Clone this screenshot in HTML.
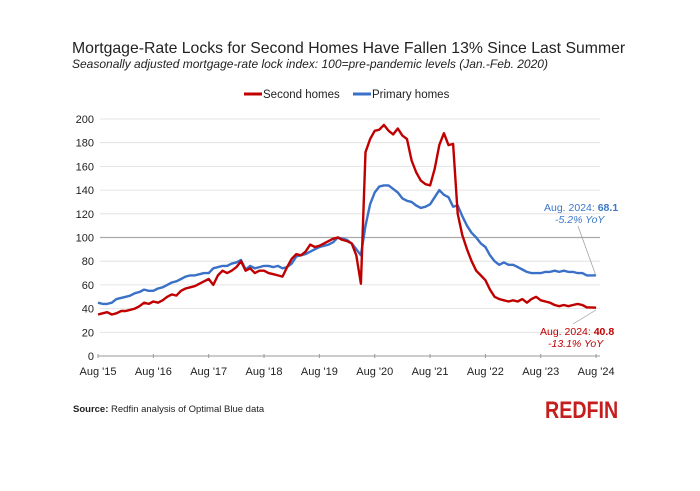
<!DOCTYPE html>
<html><head><meta charset="utf-8"><style>
html,body{margin:0;padding:0;background:#fff;}
body{width:700px;height:486px;overflow:hidden;font-family:"Liberation Sans",sans-serif;}
</style></head><body>
<svg id="s" width="700" height="486" xmlns="http://www.w3.org/2000/svg" font-family="Liberation Sans, sans-serif">
<rect width="700" height="486" fill="#fff"/>
<text x="72" y="53" font-size="15.8" fill="#222">Mortgage-Rate Locks for Second Homes Have Fallen 13% Since Last Summer</text>
<text x="72" y="68" font-size="12" font-style="italic" fill="#222">Seasonally adjusted mortgage-rate lock index: 100=pre-pandemic levels (Jan.-Feb. 2020)</text>
<line x1="244" y1="94" x2="262" y2="94" stroke="#c00000" stroke-width="3"/>
<text x="263" y="98" font-size="11.5" fill="#222">Second homes</text>
<line x1="353" y1="94" x2="371" y2="94" stroke="#3a70c8" stroke-width="3"/>
<text x="372" y="98" font-size="11.5" fill="#222">Primary homes</text>
<g id="grid"></g>
<g id="lines"></g>
<text x="544" y="211" font-size="10.5" fill="#3a78c8">Aug. 2024: <tspan font-weight="bold">68.1</tspan></text>
<text x="555" y="223" font-size="10.5" font-style="italic" fill="#3a78c8">-5.2% YoY</text>
<line x1="578" y1="226" x2="596" y2="276" stroke="#999" stroke-width="0.7"/>
<line x1="573" y1="324" x2="596" y2="310" stroke="#999" stroke-width="0.7"/>
<text x="540" y="335" font-size="10.5" fill="#c00000">Aug. 2024: <tspan font-weight="bold">40.8</tspan></text>
<text x="548" y="347" font-size="10.5" font-style="italic" fill="#c00000">-13.1% YoY</text>
<text x="73" y="412" font-size="9.5" fill="#222"><tspan font-weight="bold">Source:</tspan> Redfin analysis of Optimal Blue data</text>
<text x="0" y="0" font-size="24" font-weight="bold" fill="#c41e1e" transform="translate(545,418) scale(0.82,1)">REDFIN</text>
</svg>
<script>
var P=[45,44,44,45,48,49,50,51,53,54,56,55,55,57,58,60,62,63,65,67,68,68,69,70,70,74,75,76,76,78,79,81,73,76,74,75,76,76,75,76,74,75,78,84,85,86,88,90,92,93,94,96,100,99,98,95,90,85,110,128,138,143,144,144,141,138,133,131,130,127,125,126,128,134,140,136,134,126,127,118,110,104,100,95,92,85,80,77,79,77,77,75,73,71,70,70,70,71,71,72,71,72,71,71,70,70,68,68,68.1];
var R=[35,36,37,35,36,38,38,39,40,42,45,44,46,45,47,50,52,51,55,57,58,59,61,63,65,60,68,72,70,72,75,80,72,74,70,72,72,70,69,68,67,75,82,86,85,88,94,92,93,95,97,99,100,98,97,95,85,61,172,183,190,191,195,190,187,192,186,183,165,155,148,145,144,158,178,188,178,179,120,102,90,80,72,68,64,56,50,48,47,46,47,46,48,45,48,50,47,46,45,43,42,43,42,43,44,43,41,41,40.8];
function X(i){return 98+i*4.612;}function Y(v){return 356-v*1.185;}
var g='';
for(var v=0;v<=200;v+=20){var y=Y(v);
 if(v>0)g+='<line x1="100" x2="600" y1="'+y+'" y2="'+y+'" stroke="'+(v==100?'#aaa':'#ddd')+'" stroke-width="'+(v==100?1.3:0.8)+'"/>';
 g+='<text x="94" y="'+(y+4)+'" font-size="11" text-anchor="end" fill="#222">'+v+'</text>';}
g+='<line x1="98" x2="600" y1="356" y2="356" stroke="#999" stroke-width="1"/>';
var yr=['15','16','17','18','19','20','21','22','23','24'];
for(var k=0;k<10;k++){var x=X(k*12);g+='<line x1="'+x+'" x2="'+x+'" y1="354" y2="358" stroke="#999"/>';
 g+='<text x="'+x+'" y="375" font-size="11" text-anchor="middle" fill="#222">Aug \''+yr[k]+'</text>';}
document.getElementById('grid').innerHTML=g;
function pl(a,c){return '<polyline fill="none" stroke="'+c+'" stroke-width="2.4" stroke-linejoin="round" points="'+a.map(function(v,i){return X(i).toFixed(1)+','+Y(v).toFixed(1)}).join(' ')+'"/>';}
document.getElementById('lines').innerHTML=pl(P,'#3a70c8')+pl(R,'#c00000');
</script>
</body></html>
